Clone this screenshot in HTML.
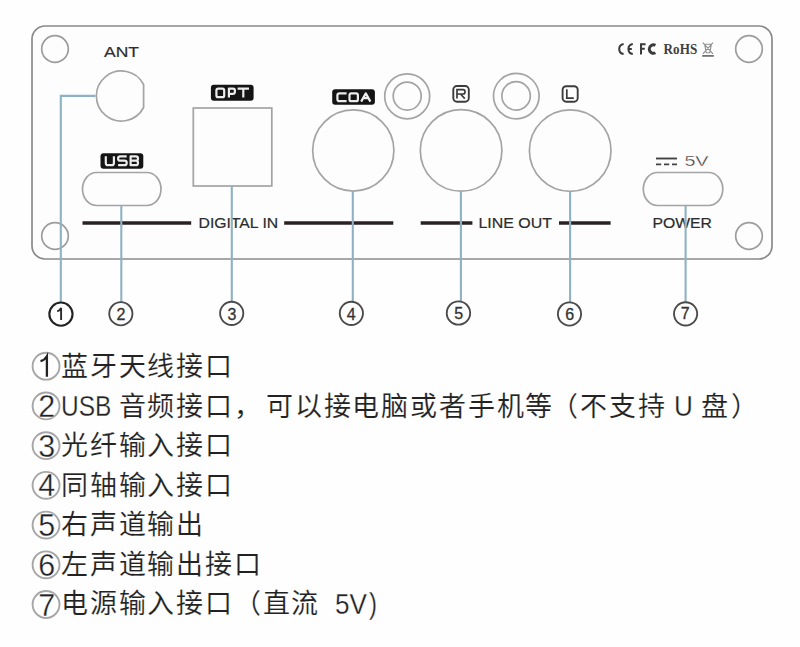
<!DOCTYPE html>
<html lang="zh-CN">
<head>
<meta charset="utf-8">
<style>
html,body{margin:0;padding:0;background:#fefefe;}
body{width:800px;height:647px;position:relative;overflow:hidden;font-family:"Liberation Sans",sans-serif;}
svg{position:absolute;left:0;top:0;}
.t{position:absolute;font-size:27px;letter-spacing:2.2px;line-height:36px;margin-top:-2.5px;color:#222;-webkit-text-stroke:0.15px #fff;white-space:pre;}
.lat{position:absolute;font-size:30px;line-height:36px;margin-top:-2.9px;color:#222;-webkit-text-stroke:0.3px #fff;white-space:pre;transform-origin:0 0;}
</style>
</head>
<body>
<svg width="800" height="340" viewBox="0 0 800 340">
  <!-- panel -->
  <rect x="32" y="26" width="740" height="233" rx="13" ry="13" fill="#fdfdfd" stroke="#8a8a8a" stroke-width="1.7"/>
  <!-- corner holes -->
  <g fill="none" stroke="#9c9c9c" stroke-width="1.7">
    <circle cx="55" cy="49" r="13.3"/>
    <circle cx="749" cy="49" r="13.3"/>
    <circle cx="55" cy="236" r="13.3"/>
    <circle cx="749" cy="236" r="13.3"/>
  </g>
  <!-- connectors -->
  <g fill="none" stroke="#a4a4a4" stroke-width="1.7">
    <path d="M143.6,84.5 A25,25 0 1 0 143.6,107.5 Z"/>
    <rect x="82.5" y="172.5" width="78.5" height="33" rx="14" ry="16.5"/>
    <rect x="193.3" y="108" width="78.5" height="78"/>
    <circle cx="353.3" cy="150.5" r="40.6"/>
    <circle cx="407.2" cy="96.3" r="22.5"/>
    <circle cx="407.2" cy="96.1" r="14"/>
    <circle cx="461.1" cy="150.4" r="40.8"/>
    <circle cx="516.3" cy="96.1" r="22.8"/>
    <circle cx="516.1" cy="95.9" r="14.2"/>
    <circle cx="570.2" cy="150.6" r="40.8"/>
    <rect x="643.3" y="172.5" width="79.5" height="33" rx="14" ry="16.5"/>
  </g>
  <!-- ANT -->
  <text x="104" y="56.8" font-family="Liberation Sans" font-size="15" fill="#2e2e2e" stroke="#2e2e2e" stroke-width="0.2" textLength="35" lengthAdjust="spacingAndGlyphs">ANT</text>
  <!-- black labels -->
  <g fill="#141414">
    <rect x="100.5" y="153.2" width="42.8" height="15.5" rx="3"/>
    <rect x="210.9" y="84.8" width="42.7" height="15.9" rx="3"/>
    <rect x="332.2" y="89.2" width="42.7" height="15.5" rx="3"/>
  </g>
  <g fill="none" stroke="#ececec" stroke-width="2.2" stroke-linejoin="round">
    <path d="M105.8,156.3 V162.9 Q105.8,165.2 108.1,165.2 H111.6 Q113.9,165.2 113.9,162.9 V156.3"/>
    <path d="M126.7,156.3 H120.3 Q118.1,156.3 118.1,158.4 Q118.1,160.7 120.3,160.7 H124.5 Q126.7,160.7 126.7,162.9 Q126.7,165.2 124.5,165.2 H118.1"/>
    <path d="M130.6,156.3 H135.8 Q138,156.3 138,158.4 Q138,160.7 135.8,160.7 Q138,160.7 138,162.9 Q138,165.2 135.8,165.2 H130.6 Z M130.6,160.7 H135.8"/>
    <rect x="216.4" y="88.7" width="7.8" height="8.5" rx="1.8"/>
    <path d="M228.9,97.6 V88.7 H233 Q234.9,88.7 234.9,90.7 V91.8 Q234.9,93.8 233,93.8 H228.9"/>
    <path d="M237.6,88.7 H249 M243.3,88.7 V97.6"/>
    <path d="M346.6,93.4 H339.4 Q337.4,93.4 337.4,95.4 V99.2 Q337.4,101.2 339.4,101.2 H346.6"/>
    <rect x="349.5" y="93.4" width="8.4" height="7.8" rx="1.8"/>
    <path d="M361.2,101.6 L365.8,93.4 L370.4,101.6 M363.4,98.2 H368.2"/>
  </g>
  <!-- R / L -->
  <g fill="none" stroke="#3c3c3c" stroke-width="1.9">
    <rect x="453.3" y="86" width="15.5" height="15.7" rx="3.6"/>
    <rect x="562.6" y="86.2" width="15.1" height="15.5" rx="3.6"/>
  </g>
  <g fill="none" stroke="#3a3a3a" stroke-width="1.7">
    <path d="M457,98.6 V89.7 H463 Q465,89.7 465,91.7 V92 Q465,94 463,94 H457 M460.5,94 L464.8,98.6"/>
    <path d="M566.8,89.2 V98.2 H573.8"/>
  </g>
  <!-- DIGITAL IN / LINE OUT lines -->
  <g stroke="#2a2222" stroke-width="3.6">
    <line x1="82.5" y1="223" x2="191.2" y2="223"/>
    <line x1="284.2" y1="223" x2="393.3" y2="223"/>
    <line x1="420.7" y1="223" x2="472.4" y2="223"/>
    <line x1="559" y1="223" x2="610.6" y2="223"/>
  </g>
  <g fill="#2b2b2b" stroke="#2b2b2b" stroke-width="0.2" font-family="Liberation Sans" font-size="15">
    <text x="198.5" y="228.3" textLength="79.7" lengthAdjust="spacingAndGlyphs">DIGITAL IN</text>
    <text x="478.4" y="228.4" textLength="73.6" lengthAdjust="spacingAndGlyphs">LINE OUT</text>
    <text x="652.4" y="228.4" textLength="59.5" lengthAdjust="spacingAndGlyphs">POWER</text>
    <text x="684.4" y="166.3" font-size="14" stroke="#fff" stroke-width="0.3" fill="#3a3a3a" textLength="24.1" lengthAdjust="spacingAndGlyphs">5V</text>
  </g>
  <!-- DC symbol -->
  <g stroke="#444" stroke-width="1.9">
    <line x1="656" y1="158.5" x2="677" y2="158.5"/>
    <line x1="656" y1="164.4" x2="677" y2="164.4" stroke-dasharray="5.2 2.8"/>
  </g>
  <!-- CE FC -->
  <g fill="none" stroke="#3a3a3a" stroke-width="2">
    <path d="M623.6,44 A5.1,5.1 0 0 0 623.6,54.1"/>
    <path d="M632.8,44 A5.1,5.1 0 0 0 632.8,54.1 M628.2,49 H631.8"/>
    <path d="M641,54.5 V44.2 H645.6 M641,48.8 H644.8"/>
    <path d="M655.4,45.4 A4.2,4.2 0 1 0 655.4,52.8" stroke-width="3"/>
  </g>
  <text x="663.6" y="54" font-family="Liberation Serif" font-weight="bold" font-size="15.5" fill="#404040" textLength="33.6" lengthAdjust="spacingAndGlyphs">RoHS</text>
  <g stroke="#909090" stroke-width="1.1" fill="none">
    <path d="M703.8,44.2 H712.2 M704.6,44.2 L706.2,52.8 H709.8 L711.4,44.2 M702.8,42.6 L713,53.8 M713,42.6 L702.8,53.8"/>
    <line x1="702.2" y1="55.9" x2="713.8" y2="55.9" stroke-width="1.7" stroke="#6a6a6a"/>
  </g>
  <!-- blue leader lines -->
  <g stroke="#8fb2c2" stroke-width="2.1" fill="none">
    <path d="M95.5,95.9 L60.8,95.9 L60.8,302"/>
    <line x1="121.3" y1="205.8" x2="121.3" y2="302"/>
    <line x1="231.8" y1="186" x2="231.8" y2="302"/>
    <line x1="352.8" y1="191" x2="352.8" y2="302"/>
    <line x1="460.9" y1="191.2" x2="460.9" y2="301"/>
    <line x1="570.1" y1="191.4" x2="570.1" y2="302"/>
    <line x1="685.6" y1="205.8" x2="685.6" y2="302"/>
  </g>
  <!-- numbered circles -->
  <circle cx="60.95" cy="314.1" r="11.6" fill="none" stroke="#222" stroke-width="2.1"/>
  <path d="M57.2,311.4 Q59.9,310.6 61.1,307.9 V319.9" fill="none" stroke="#2a2a2a" stroke-width="1.9"/>
  <g fill="none" stroke="#4a4a4a" stroke-width="1.85">
    <circle cx="120.85" cy="313.7" r="11.6"/>
    <circle cx="231.7" cy="313.35" r="11.6"/>
    <circle cx="351.35" cy="313.35" r="11.6"/>
    <circle cx="458.45" cy="313" r="11.7"/>
    <circle cx="569.5" cy="313.95" r="11.6"/>
    <circle cx="685.6" cy="313.85" r="11.6"/>
  </g>
  <g fill="#333" stroke="#333" stroke-width="0.3" font-family="Liberation Sans" font-size="16" text-anchor="middle">
    
    <text x="121" y="319.8">2</text>
    <text x="231.9" y="319.5">3</text>
    <text x="351.3" y="319.5">4</text>
    <text x="458.6" y="318.9">5</text>
    <text x="569.6" y="319.6">6</text>
    <text x="685.3" y="319.4">7</text>
  </g>
</svg>
<!--TEXT-->
<svg style="position:absolute;left:0;top:0" width="800" height="647"><g fill="none" stroke="#a6a6a6" stroke-width="1.9"><circle cx="46.05" cy="366.20" r="13.45"/><circle cx="46.05" cy="405.92" r="13.45"/><circle cx="46.05" cy="445.64" r="13.45"/><circle cx="46.05" cy="485.36" r="13.45"/><circle cx="46.05" cy="525.08" r="13.45"/><circle cx="46.05" cy="564.80" r="13.45"/><circle cx="46.05" cy="604.52" r="13.45"/></g><g fill="#222" stroke="#fff" stroke-width="0.35" font-family="Liberation Sans" font-size="30.5" text-anchor="middle"><text x="46.8" y="416.92">2</text><text x="46.8" y="456.64">3</text><text x="46.8" y="496.36">4</text><text x="46.8" y="536.08">5</text><text x="46.8" y="575.80">6</text><text x="46.8" y="615.52">7</text></g><path d="M40.5,361.2 Q44.6,360.3 46.9,356.3 V376.7" fill="none" stroke="#222" stroke-width="2.3"/></svg>
<div class="t" style="left:61px;top:351.6px;letter-spacing:1.8px">蓝牙天线接口</div>
<div class="lat" style="left:61px;top:391.2px;transform:scaleX(0.816)">USB</div>
<div class="t" style="left:118.5px;top:391.2px;letter-spacing:1.8px">音频接口，</div>
<div class="t" style="left:266px;top:391.2px;letter-spacing:1.82px">可以接电脑或者手机等</div>
<div class="t" style="left:551px;top:391.2px;letter-spacing:2.1px">（不支持</div>
<div class="lat" style="left:673.5px;top:391.2px;transform:scaleX(0.87)">U</div>
<div class="t" style="left:701px;top:391.2px;letter-spacing:3px">盘）</div>
<div class="t" style="left:61px;top:430.7px;letter-spacing:1.8px">光纤输入接口</div>
<div class="t" style="left:61px;top:470.2px;letter-spacing:1.8px">同轴输入接口</div>
<div class="t" style="left:61px;top:509.8px;letter-spacing:1.8px">右声道输出</div>
<div class="t" style="left:61px;top:549.4px;letter-spacing:1.8px">左声道输出接口</div>
<div class="t" style="left:61px;top:588.9px;letter-spacing:1.8px">电源输入接口（直流</div>
<div class="lat" style="left:335px;top:588.9px;transform:scaleX(0.87)">5V</div>
<div class="lat" style="left:369px;top:588.9px;transform:scaleX(0.8);font-size:30px;margin-top:-3.2px">)</div>
</body>
</html>
